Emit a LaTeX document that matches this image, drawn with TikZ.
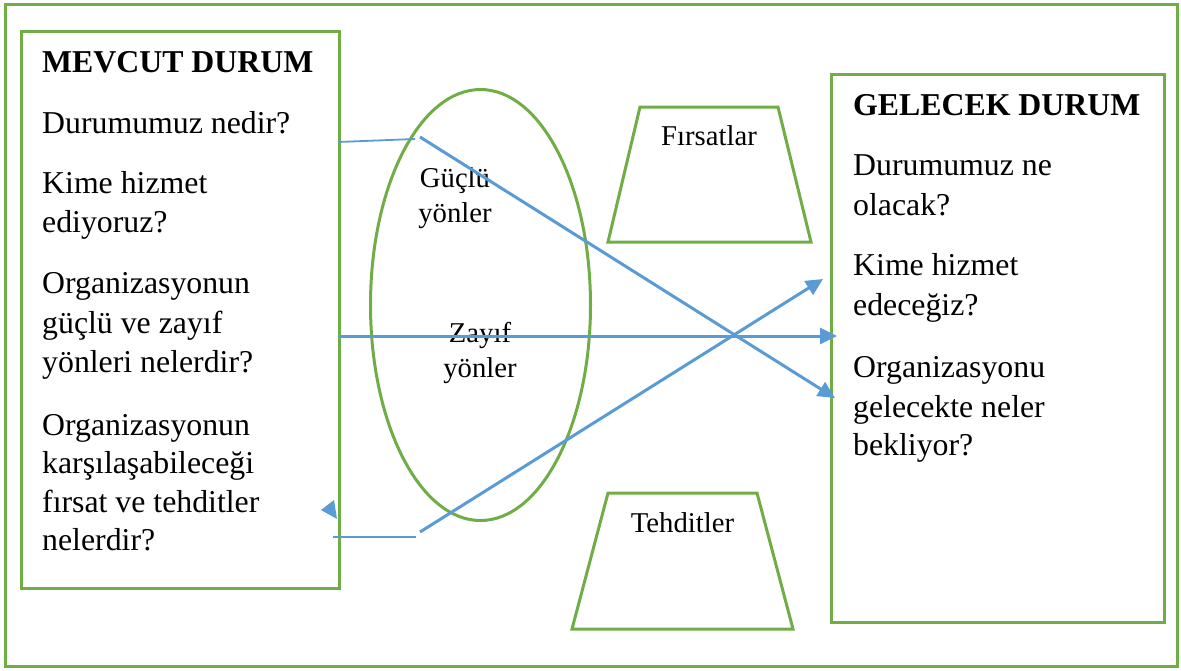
\documentclass[tikz,border=0pt]{standalone}
\usepackage{fontspec}
\setmainfont{Liberation Serif}
\usetikzlibrary{arrows.meta,shapes.geometric}
\definecolor{frame}{HTML}{70AD47}
\definecolor{linkblue}{HTML}{5B9BD5}
\begin{document}
\begin{tikzpicture}[x=1pt,y=-1pt,
  box/.style={draw=frame, line width=3pt},
  txt/.style={anchor=base west, inner sep=0pt, font=\fontsize{31.8}{38}\selectfont},
  head/.style={anchor=base west, inner sep=0pt, font=\fontsize{31.8}{38}\selectfont\bfseries},
  lbl/.style={anchor=base, inner sep=0pt, font=\fontsize{28.7}{35}\selectfont},
  link/.style={draw=linkblue, line width=3pt, -{Triangle[length=17pt,width=16pt]}},
  lead/.style={draw=linkblue, line width=1.8pt}]
\useasboundingbox (0,0) rectangle (1181,670);

% outer frame
\draw[box] (5,4) rectangle (1177,666);

% current and future state boxes
\node[box, anchor=north west, inner sep=0pt, minimum width=318pt, minimum height=557pt] (cur) at (20,30) {};
\node[box, anchor=north west, inner sep=0pt, minimum width=333pt, minimum height=548pt] (fut) at (830,73) {};

% strengths / weaknesses ellipse
\node[box, ellipse, inner sep=0pt, minimum width=220pt, minimum height=431pt] (sw) at (480.5,305) {};

% opportunities and threats
\draw[box] (640,107) -- (778,107) -- (811,242) -- (608,242) -- cycle;
\draw[box] (608,493) -- (757,493) -- (793,629) -- (572,629) -- cycle;
\node[lbl] (opp) at (709,145) {Fırsatlar};
\node[lbl] (thr) at (682.5,532) {Tehditler};

% ellipse labels
\node[lbl] (s1) at (455,187) {Güçlü};
\node[lbl] (s2) at (455,222) {yönler};
\node[lbl] (w1) at (480,342) {Zayıf};
\node[lbl] (w2) at (480,377) {yönler};

% current state text
\node[head] (ch) at (42,72) {MEVCUT DURUM};
\node[txt] (c1) at (42,133) {Durumumuz nedir?};
\node[txt] (c2) at (42,193) {Kime hizmet};
\node[txt] (c3) at (42,232) {ediyoruz?};
\node[txt] (c4) at (42,293) {Organizasyonun};
\node[txt] (c5) at (42,333) {güçlü ve zayıf};
\node[txt] (c6) at (42,372) {yönleri nelerdir?};
\node[txt] (c7) at (42,435) {Organizasyonun};
\node[txt] (c8) at (42,473) {karşılaşabileceği};
\node[txt] (c9) at (42,512) {fırsat ve tehditler};
\node[txt] (c10) at (42,550) {nelerdir?};

% future state text
\node[head] (fh) at (853,115) {GELECEK DURUM};
\node[txt] (f1) at (853,175) {Durumumuz ne};
\node[txt] (f2) at (853,215) {olacak?};
\node[txt] (f3) at (853,275) {Kime hizmet};
\node[txt] (f4) at (853,315) {edeceğiz?};
\node[txt] (f5) at (853,377) {Organizasyonu};
\node[txt] (f6) at (853,417) {gelecekte neler};
\node[txt] (f7) at (853,455) {bekliyor?};

% connector end points
\coordinate (p1) at (338,142);
\coordinate (p2) at (415,139);
\coordinate (p3) at (420,137);
\coordinate (p4) at (835,398);
\coordinate (q1) at (338,336);
\coordinate (q2) at (837,336);
\coordinate (r1) at (333,537);
\coordinate (r2) at (416,537);
\coordinate (r3) at (420,532);
\coordinate (r4) at (823,279);

% connectors
\draw[lead] (p1) -- (p2);
\draw[link] (p3) -- (p4);
\draw[link] (q1) -- (q2);
\draw[lead] (r1) -- (r2);
\draw[link] (r3) -- (r4);

% loose arrow head beside the current state box
\fill[linkblue] (321,510) -- (334,500) -- (337,519) -- cycle;
\end{tikzpicture}
\end{document}
